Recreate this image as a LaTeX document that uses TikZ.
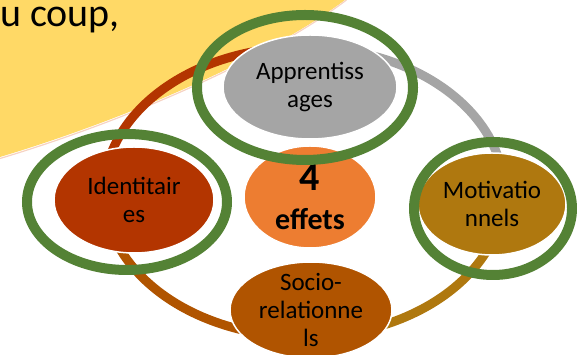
\documentclass[tikz,border=0pt]{standalone}
\usepackage{fontspec}
\setmainfont{Carlito}
\usetikzlibrary{shapes.geometric}

\definecolor{sunyellow}{HTML}{FFD966}
\definecolor{yellowedge}{HTML}{F6D3C3}
\definecolor{apprgray}{HTML}{A5A5A5}
\definecolor{identred}{HTML}{B33500}
\definecolor{effetsorange}{HTML}{ED7D31}
\definecolor{motivgold}{HTML}{AF780F}
\definecolor{sociobrown}{HTML}{B05400}
\definecolor{ringgreen}{HTML}{548235}

\tikzset{
	effect/.style={ellipse, draw=white, line width=1.5pt, inner sep=-12pt,
			align=center, text=black, font=\fontsize{25}{28}\selectfont},
	cyclearc/.style={line width=9pt},
	hilite/.style={draw=ringgreen, line width=10pt}
}

\begin{document}
\begin{tikzpicture}[x=1pt, y=1pt]
			\useasboundingbox (0,0) rectangle (577,355);
			\clip (0,0) rectangle (577,355);

			% Yellow corner with its text
			\fill[sunyellow] (0,355) -- (0,198) .. controls (120,234) and
			(265,295) .. (345,355) -- cycle;
			\draw[yellowedge, line width=1.2pt] (0,196.5) .. controls
			(120,232.5) and (265,293.5) .. (346.5,355);
			\node[anchor=base west, inner sep=0pt,
				font=\fontsize{40}{44}\selectfont] (coup) at (0,328) {u coup,};

			% Cycle behind the effects
			\pgfmathsetmacro{\ringX}{200}
			\pgfmathsetmacro{\ringY}{145}
			\coordinate (hub) at (304,163);

			\draw[cyclearc, identred] (hub) ++(165:\ringX pt and \ringY pt)
			arc[start angle=165, end angle=100, x radius=\ringX pt, y radius=\ringY pt];
			\draw[cyclearc, apprgray] (hub) ++(80:\ringX pt and \ringY pt)
			arc[start angle=80, end angle=12, x radius=\ringX pt, y radius=\ringY pt];
			\draw[cyclearc, motivgold] (hub) ++(-12:\ringX pt and \ringY pt)
			arc[start angle=-12, end angle=-75, x radius=\ringX pt, y radius=\ringY pt];
			\draw[cyclearc, sociobrown] (hub) ++(-105:\ringX pt and \ringY pt)
			arc[start angle=-105, end angle=-168, x radius=\ringX pt, y radius=\ringY pt];

			% The effects
			\node[effect, fill=apprgray, minimum width=174pt, minimum height=104pt]
			(appr) at (310,268) {Apprentiss\\ages};
			\node[effect, fill=identred, minimum width=160pt, minimum height=106pt]
			(ident) at (134,155) {Identitair\\es};
			\node[effect, fill=effetsorange, minimum width=132pt, minimum height=102pt,
				font=\bfseries\fontsize{30}{39}\selectfont] (effets) at (310,158)
			{{\fontsize{40}{40}\selectfont 4}\\effets};
			\node[effect, fill=motivgold, minimum width=148pt, minimum height=102pt]
			(motiv) at (492,151) {Motivatio\\nnels};
			\node[effect, fill=sociobrown, minimum width=162pt, minimum height=96pt]
			(socio) at (311,45) {Socio-\\relationne\\ls};

			% Green highlights
			\draw[hilite] ([shift={(-5,-0.5)}]appr.center) ellipse[x radius=108, y radius=72.5];
			\draw[hilite] ([shift={(-7,-2)}]ident.center) ellipse[x radius=100, y radius=68];
			\draw[hilite] ([shift={(1,-4.5)}]motiv.center) ellipse[x radius=79, y radius=66.5];
		\end{tikzpicture}
\end{document}
